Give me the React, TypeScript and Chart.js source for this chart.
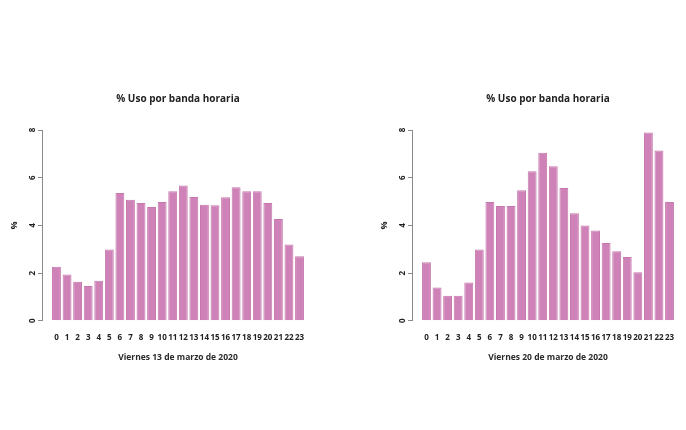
import React, { useEffect, useRef } from "react";
import { Chart, registerables } from "chart.js";

Chart.register(...registerables);
Chart.defaults.font.family = "'Open Sans', 'Noto Sans', sans-serif";

const hours = ["0","1","2","3","4","5","6","7","8","9","10","11","12","13","14","15","16","17","18","19","20","21","22","23"];
const usoViernes13 = [2.27, 1.94, 1.64, 1.46, 1.68, 2.99, 5.36, 5.08, 4.94, 4.77, 4.98, 5.43, 5.67, 5.19, 4.87, 4.84, 5.18, 5.6, 5.43, 5.43, 4.94, 4.27, 3.2, 2.71];
const usoViernes20 = [2.46, 1.4, 1.05, 1.05, 1.61, 2.99, 4.98, 4.81, 4.81, 5.47, 6.27, 7.05, 6.48, 5.57, 4.51, 4.0, 3.79, 3.26, 2.92, 2.68, 2.04, 7.9, 7.14, 4.98];
const yTicks = [0, 2, 4, 6, 8];
const chartTitle = "% Uso por banda horaria";
const yTitle = "%";
const subtitle13 = "Viernes 13 de marzo de 2020";
const subtitle20 = "Viernes 20 de marzo de 2020";

function makeConfig(values: number[], sub: string, padLeft: number, padRight: number): any {
  return {
    type: "bar",
    data: {
      datasets: [
        {
          data: values.map((v, i) => ({ x: i, y: v })),
          backgroundColor: "#cf82b7",
          borderColor: "#c677ad",
          borderWidth: 1,
          barPercentage: 0.84,
          categoryPercentage: 1,
        },
      ],
    },
    options: {
      responsive: false,
      animation: false,
      devicePixelRatio: 1,
      layout: { padding: { left: padLeft, right: padRight, top: 93, bottom: 67 } },
      plugins: {
        legend: { display: false },
        tooltip: { enabled: false },
        title: {
          display: true,
          text: chartTitle,
          fullSize: false,
          color: "#222",
          font: { size: 10, weight: "bold" },
          padding: { top: 0, bottom: 25 },
        },
        subtitle: {
          display: true,
          text: sub,
          position: "bottom",
          fullSize: false,
          color: "#2a2a2a",
          font: { size: 8.5, weight: "bold" },
          padding: { top: 12, bottom: 0 },
        },
      },
      scales: {
        x: {
          type: "linear",
          min: -1.37,
          max: 24.37,
          offset: false,
          grid: { display: false },
          border: { display: false },
          afterBuildTicks: (s: any) => {
            s.ticks = hours.map((_, i) => ({ value: i }));
          },
          afterFit: (s: any) => {
            s.height = 20;
          },
          ticks: {
            autoSkip: false,
            maxRotation: 0,
            minRotation: 0,
            padding: 4,
            color: "#222",
            font: { size: 8, weight: "bold" },
            callback: (v: any) => hours[v] ?? "",
          },
        },
        y: {
          min: 0,
          max: 8,
          afterBuildTicks: (s: any) => {
            s.ticks = yTicks.map((v) => ({ value: v }));
          },
          afterFit: (s: any) => {
            s.width = 42;
          },
          grid: {
            drawOnChartArea: false,
            drawTicks: true,
            tickLength: 4,
            color: "#8a8a8a",
          },
          border: { display: true, color: "#8a8a8a" },
          ticks: {
            minRotation: 90,
            maxRotation: 90,
            crossAlign: "center",
            padding: 3,
            color: "#222",
            font: { size: 8, weight: "bold" },
          },
          title: {
            display: true,
            text: yTitle,
            color: "#222",
            font: { size: 9, weight: "bold" },
            padding: { top: 9, bottom: 0 },
          },
        },
      },
    },
  };
}

function BarChart({ values, sub, padLeft, padRight }: { values: number[]; sub: string; padLeft: number; padRight: number }) {
  const ref = useRef<HTMLCanvasElement>(null);
  useEffect(() => {
    if (!ref.current) return;
    const chart = new Chart(ref.current, makeConfig(values, sub, padLeft, padRight));
    return () => chart.destroy();
  }, [values, sub, padLeft, padRight]);
  return <canvas ref={ref} width={343} height={430} style={{ display: "block", width: 343, height: 430 }} />;
}

export default function App() {
  return (
    <div style={{ position: "absolute", left: 0, top: 0, width: 686, height: 430, background: "#fff", display: "flex" }}>
      <BarChart values={usoViernes13} sub={subtitle13} padLeft={0} padRight={29} />
      <BarChart values={usoViernes20} sub={subtitle20} padLeft={27} padRight={2} />
    </div>
  );
}
